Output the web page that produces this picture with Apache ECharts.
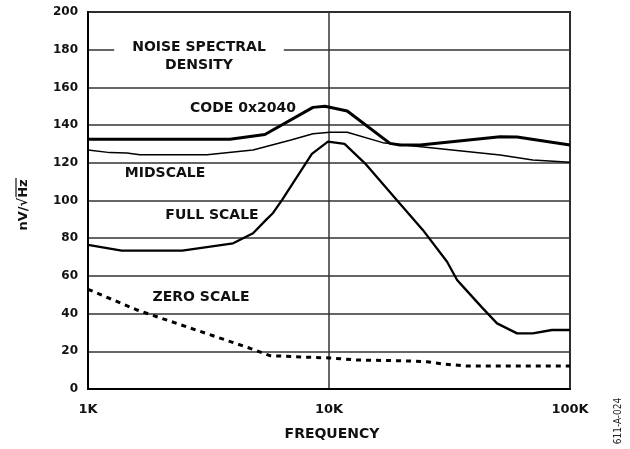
<!DOCTYPE html>
<html>
<head>
<meta charset="utf-8">
<script src="https://cdn.jsdelivr.net/npm/echarts@6/dist/echarts.min.js"></script>
<style>html,body{margin:0;padding:0;background:#fff}#c{width:630px;height:449px}</style>
</head>
<body>
<div id="c"></div>
<script>
// ---- data (frequency in Hz, noise in nV/√Hz) ----
var codeFreq = [1000, 3880, 5420, 8580, 9620, 11900, 17900, 19700, 23900, 51300, 60300, 100000];
var codeVal  = [132.5, 132.5, 135, 149.4, 150, 147.5, 130.3, 129.4, 129.4, 133.8, 133.7, 129.4];

var midFreq = [1000, 1234, 1450, 1640, 3120, 4840, 6890, 8580, 10100, 11900, 16700, 51300, 70100, 100000];
var midVal  = [126.8, 125.4, 125.2, 124.3, 124.3, 126.8, 132, 135.4, 136.2, 136.2, 130.7, 124.1, 121.5, 120.3];

var fullFreq = [1000, 1380, 2460, 4000, 4840, 5480, 5860, 6390, 8490, 9900, 11600, 14100, 19100, 24500, 30900, 34000, 36000, 43100, 49800, 60300, 70100, 84100, 100000];
var fullVal  = [76.4, 73.4, 73.4, 77.3, 82.6, 89.7, 93.4, 100.3, 124.7, 131.2, 130, 119.7, 100.3, 84.4, 67.5, 57.8, 54.3, 43.3, 34.8, 29.5, 29.5, 31.3, 31.3];

var zeroFreq = [1000, 1600, 4700, 5690, 7600, 10000, 13100, 19700, 25500, 29600, 37300, 100000];
var zeroVal  = [52.9, 41.9, 21.6, 17.7, 17.0, 16.5, 15.4, 15.0, 14.5, 13.3, 12.2, 12.2];

var xTickLabels = {1000: '1K', 10000: '10K', 100000: '100K'};
var seriesNames = ['CODE 0x2040', 'MIDSCALE', 'FULL SCALE', 'ZERO SCALE'];

function pairs(f, v) { return f.map(function (x, i) { return [x, v[i]]; }); }

var BOLD = '"DejaVu Sans", sans-serif';
var chart = echarts.init(document.getElementById('c'), null, {renderer: 'canvas'});

function label(text, x, y, extra) {
  var s = {text: text, x: x, y: y, align: 'center', verticalAlign: 'middle',
           font: 'bold 14px ' + BOLD, fill: '#111'};
  if (extra) for (var k in extra) s[k] = extra[k];
  return {type: 'text', z: 100, style: s};
}

chart.setOption({
  animation: false,
  backgroundColor: '#fff',
  grid: {left: 88, right: 60, top: 12, bottom: 60, show: true, borderColor: '#222', borderWidth: 2, backgroundColor: 'transparent'},
  xAxis: {
    type: 'log', logBase: 10, min: 1000, max: 100000,
    axisLine: {show: true, lineStyle: {color: '#000', width: 2}},
    axisTick: {show: false},
    minorTick: {show: false},
    splitLine: {show: true, lineStyle: {color: '#333', width: 1.5}},
    axisLabel: {formatter: function (v) { return xTickLabels[v] || ''; }, color: '#111',
      fontFamily: BOLD, fontWeight: 'bold', fontSize: 13, margin: 14}
  },
  yAxis: {
    type: 'value', min: 0, max: 200, interval: 20,
    axisLine: {show: true, lineStyle: {color: '#000', width: 2}},
    axisTick: {show: false},
    splitLine: {show: true, lineStyle: {color: '#333', width: 1.5}},
    axisLabel: {color: '#111', fontFamily: BOLD, fontWeight: 'bold', fontSize: 12, margin: 10}
  },
  series: [
    {name: seriesNames[0], type: 'line', data: pairs(codeFreq, codeVal), showSymbol: false, z: 5,
     lineStyle: {color: '#000', width: 3}},
    {name: seriesNames[1], type: 'line', data: pairs(midFreq, midVal), showSymbol: false, z: 5,
     lineStyle: {color: '#000', width: 1.5}},
    {name: seriesNames[2], type: 'line', data: pairs(fullFreq, fullVal), showSymbol: false, z: 5,
     lineStyle: {color: '#000', width: 2.3}},
    {name: seriesNames[3], type: 'line', data: pairs(zeroFreq, zeroVal), showSymbol: false, z: 5,
     lineStyle: {color: '#000', width: 3, type: [5, 5]}}
  ],
  graphic: [
    label('NOISE SPECTRAL\nDENSITY', 199, 56, {backgroundColor: '#fff', padding: [0, 18, 0, 18], lineHeight: 18}),
    label(seriesNames[0], 243, 108),
    label(seriesNames[1], 165, 173),
    label(seriesNames[2], 212, 215),
    label(seriesNames[3], 201, 297),
    label('FREQUENCY', 332, 434),
    {type: 'text', z: 100, x: 24, y: 205, rotation: Math.PI / 2,
     style: {text: 'nV/√Hz', x: 0, y: 0, align: 'center', verticalAlign: 'middle',
             font: 'bold 13px ' + BOLD, fill: '#111'}},
    {type: 'line', z: 100, shape: {x1: 16, y1: 178, x2: 16, y2: 197},
     style: {stroke: '#111', lineWidth: 1.2}},
    {type: 'text', z: 100, x: 618, y: 421, rotation: Math.PI / 2,
     style: {text: '611-A-024', x: 0, y: 0, align: 'center', verticalAlign: 'middle',
             font: '10px "Liberation Sans Narrow", "DejaVu Sans Condensed", sans-serif', fill: '#222'}}
  ]
});
</script>
</body>
</html>
